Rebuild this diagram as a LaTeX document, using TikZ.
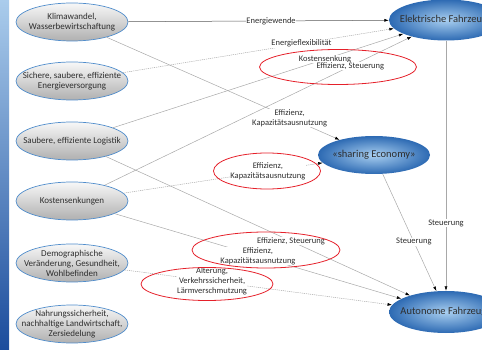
\documentclass[tikz,border=0pt]{standalone}
\usepackage{fontspec}
\setmainfont{Carlito}
\usetikzlibrary{shapes.geometric,arrows.meta}
\definecolor{bandtop}{HTML}{AACCEC}
\definecolor{bandmid}{HTML}{4A88CC}
\definecolor{bandbot}{HTML}{1B4C9C}
\definecolor{causeborder}{HTML}{4F8CCB}
\definecolor{goalin}{HTML}{A9CFF0}
\definecolor{goalout}{HTML}{2D6AB3}
\definecolor{linkgray}{HTML}{A8A8A8}
\definecolor{ringred}{HTML}{E5202A}
\definecolor{txt}{HTML}{2E2E2E}

\begin{document}
\begin{tikzpicture}[x=1pt,y=-1pt,
    cause/.style={ellipse,draw=causeborder,line width=0.7pt,top color=gray!6,bottom color=gray!62,
      minimum width=112pt,minimum height=38pt,inner xsep=-13pt,inner ysep=-3pt,align=center,
      text=txt,font=\fontsize{9}{10}\selectfont},
    goal/.style={ellipse,shading=radial,inner color=goalin,outer color=goalout,
      minimum width=114pt,minimum height=41pt,inner xsep=-14pt,inner ysep=0pt,
      text=txt,font=\fontsize{10.5}{12}\selectfont},
    link/.style={draw=linkgray,line width=0.5pt,-{Latex[length=4.5pt,width=3pt,color=black]}},
    dotlink/.style={link,dash pattern=on 1.2pt off 0.9pt},
    lbl/.style={fill=white,inner sep=0.4pt,align=center,text=txt,font=\fontsize{8.5}{10}\selectfont},
    ring/.style={draw=ringred,line width=0.8pt}]
  \useasboundingbox (0,0) rectangle (482,350);
  \clip (0,0) rectangle (482,350);
  \fill[top color=bandtop,middle color=bandmid,bottom color=bandbot] (0,0) rectangle (9,350);

  \node[cause] (klima) at (72,22) {Klimawandel,\\Wasserbewirtschaftung};
  \node[cause] (energie) at (72,81) {Sichere, saubere, effiziente\\Energieversorgung};
  \node[cause] (logistik) at (72,141) {Saubere, effiziente Logistik};
  \node[cause] (kosten) at (72,201) {Kostensenkungen};
  \node[cause] (demo) at (72,263) {Demographische\\Veränderung, Gesundheit,\\Wohlbefinden};
  \node[cause] (nahrung) at (72,324) {Nahrungssicherheit,\\nachhaltige Landwirtschaft,\\Zersiedelung};

  \node[goal] (elek) at (446,20) {Elektrische Fahrzeuge};
  \node[goal,minimum width=112pt,minimum height=38pt] (sharing) at (374,155) {«sharing Economy»};
  \node[goal,minimum height=42pt] (auto) at (446,312) {Autonome Fahrzeuge};

  \draw[link,draw=black!65] (klima) -- node[lbl,pos=0.548] {Energiewende} (elek);
  \draw[link] (klima) -- node[lbl,pos=0.786] {Effizienz,\\Kapazitätsausnutzung} (sharing);
  \draw[dotlink] (energie) -- node[lbl,pos=0.659] {Energieflexibilität} (elek);
  \draw[link] (logistik) -- node[lbl,pos=0.73] {Kostensenkung} (elek);
  \draw[link] (kosten) -- node[lbl,pos=0.80] {Effizienz, Steuerung} (elek);
  \draw[dotlink] (kosten) -- node[lbl,pos=0.725] {Effizienz,\\Kapazitätsausnutzung} (sharing);
  \draw[link] (logistik) -- node[lbl,pos=0.609] {Effizienz, Steuerung} (auto);
  \draw[link] (kosten) -- node[lbl,pos=0.50] {Effizienz,\\Kapazitätsausnutzung} (auto);
  \draw[dotlink] (demo) -- node[lbl,pos=0.327] {Alterung,\\Verkehrssicherheit,\\Lärmverschmutzung} (auto);
  \draw[link] (sharing) -- node[lbl,pos=0.58] {Steuerung} (auto);
  \draw[link] (elek) -- node[lbl,pos=0.73] {Steuerung} (auto);

  % rote Markierungen
  \draw[ring] (338,67) ellipse [x radius=78.5, y radius=17.5];
  \draw[ring] (267,171) ellipse [x radius=53.5, y radius=18];
  \draw[ring] (266,250) ellipse [x radius=74, y radius=18];
  \draw[ring] (207,284) ellipse [x radius=66, y radius=16.5];
\end{tikzpicture}
\end{document}
